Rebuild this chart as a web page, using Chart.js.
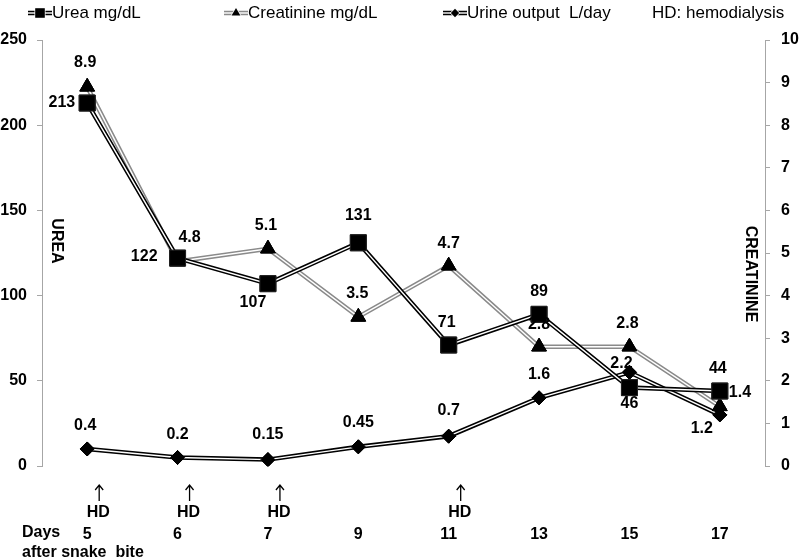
<!DOCTYPE html>
<html>
<head>
<meta charset="utf-8">
<script src="https://cdn.jsdelivr.net/npm/chart.js@4.4.1/dist/chart.umd.min.js"></script>
<style>
  html, body { margin: 0; padding: 0; background: #fff; }
  #wrap { width: 800px; height: 560px; position: relative; }
</style>
</head>
<body>
<div id="wrap"><canvas id="labChart"></canvas></div>
<script>
// data
const days = ['5', '6', '7', '9', '11', '13', '15', '17'];
const urea = [213, 122, 107, 131, 71, 89, 46, 44];
const creatinine = [8.9, 4.8, 5.1, 3.5, 4.7, 2.8, 2.8, 1.4];
const urine = [0.4, 0.2, 0.15, 0.45, 0.7, 1.6, 2.2, 1.2];
const hdDays = ['5', '6', '7', '11'];

const FONT = '"Liberation Sans", Arial, sans-serif';

// where each value label sits relative to its marker [dx, dy, align]
const labelOffsets = {
	urea: [[-12, 0, 'right'], [-20, -2, 'right'], [-15, 19, 'center'], [0, -27, 'center'],
		[-2, -22, 'center'], [0, -23, 'center'], [0, 16, 'center'], [-2, -22, 'center']],
	creatinine: [[-2, -24, 'center'], [12, -24, 'center'], [-2, -23, 'center'], [-1, -23, 'center'],
		[0, -22, 'center'], [0, -22, 'center'], [-2, -23, 'center'], [9, -14, 'left']],
	urine: [[-2, -23, 'center'], [0, -23, 'center'], [0, -25, 'center'], [0, -24, 'center'],
		[0, -26, 'center'], [0, -23, 'center'], [-8, -9, 'center'], [-18, 14, 'center']]
};

// Excel style "double" line: white stripe down the middle of the line
const doubleLine = {
	id: 'doubleLine',
	afterDatasetDraw(chart, args) {
		const ctx = chart.ctx;
		const pts = args.meta.data;
		ctx.save();
		ctx.beginPath();
		pts.forEach((p, i) => i ? ctx.lineTo(p.x, p.y) : ctx.moveTo(p.x, p.y));
		ctx.strokeStyle = '#fff';
		ctx.lineWidth = 1.4;
		ctx.lineJoin = 'miter';
		ctx.stroke();
		ctx.restore();
		pts.forEach(p => p.draw(ctx, chart.chartArea));
	}
};

// value labels, legend, axis titles, HD arrows, x caption
const annotations = {
	id: 'annotations',
	afterDatasetsDraw(chart) {
		const ctx = chart.ctx;
		const area = chart.chartArea;
		const x = chart.scales.x;
		ctx.save();
		ctx.fillStyle = '#000';
		ctx.textBaseline = 'middle';
		ctx.font = 'bold 16px ' + FONT;

		chart.data.datasets.forEach((ds, di) => {
			const meta = chart.getDatasetMeta(di);
			const offs = labelOffsets[ds.key];
			meta.data.forEach((p, i) => {
				const o = offs[i];
				ctx.textAlign = o[2];
				ctx.fillText(String(ds.data[i]), p.x + o[0], p.y + o[1]);
			});
		});

		// HD arrows
		ctx.textAlign = 'center';
		ctx.strokeStyle = '#000';
		ctx.lineWidth = 1.3;
		hdDays.forEach(d => {
			const px = x.getPixelForValue(days.indexOf(d)) + 12;
			ctx.beginPath();
			ctx.moveTo(px, area.bottom + 35);
			ctx.lineTo(px, area.bottom + 19);
			ctx.moveTo(px - 4, area.bottom + 24);
			ctx.lineTo(px, area.bottom + 19);
			ctx.lineTo(px + 4, area.bottom + 24);
			ctx.stroke();
			ctx.fillText('HD', px - 1, area.bottom + 47);
		});

		ctx.textAlign = 'left';
		ctx.fillText('Days', 22, area.bottom + 67);
		ctx.fillText('after snake  bite', 22, area.bottom + 87);

		// rotated axis titles
		ctx.textAlign = 'center';
		[['UREA', area.left + 14, 241], ['CREATININE', area.right - 15, 274]].forEach(t => {
			ctx.save();
			ctx.translate(t[1], t[2]);
			ctx.rotate(Math.PI / 2);
			ctx.fillText(t[0], 0, 0);
			ctx.restore();
		});

		// legend
		ctx.font = '17px ' + FONT;
		ctx.textAlign = 'left';
		const legendX = [40, 236, 455];
		chart.data.datasets.forEach((ds, di) => {
			const mx = legendX[di], my = 13;
			ctx.beginPath();
			ctx.moveTo(mx - 12, my);
			ctx.lineTo(mx + 12, my);
			ctx.strokeStyle = ds.borderColor;
			ctx.lineWidth = 4.5;
			ctx.stroke();
			ctx.strokeStyle = '#fff';
			ctx.lineWidth = 1.4;
			ctx.stroke();
			Chart.helpers.drawPoint(ctx, {
				pointStyle: ds.pointStyle,
				radius: ds.pointRadius * 0.6,
				borderWidth: 1
			}, mx, my);
			ctx.fillStyle = '#000';
			ctx.fill();
			ctx.fillText(ds.label, mx + 12, my);
		});
		ctx.fillText('HD: hemodialysis', 652, 13);
		ctx.restore();
	}
};

new Chart(document.getElementById('labChart'), {
	type: 'line',
	data: {
		labels: days,
		datasets: [{
			key: 'urea',
			label: 'Urea mg/dL',
			data: urea,
			yAxisID: 'y',
			borderColor: '#000',
			borderWidth: 4.5,
			pointStyle: 'rect',
			pointRadius: 11.3,
			pointBackgroundColor: '#000',
			pointBorderColor: '#222',
			pointBorderWidth: 1
		}, {
			key: 'creatinine',
			label: 'Creatinine mg/dL',
			data: creatinine,
			yAxisID: 'y1',
			borderColor: '#8a8a8a',
			borderWidth: 4.5,
			pointStyle: 'triangle',
			pointRadius: 8.5,
			pointBackgroundColor: '#000',
			pointBorderColor: '#000',
			pointBorderWidth: 1
		}, {
			key: 'urine',
			label: 'Urine output  L/day',
			data: urine,
			yAxisID: 'y1',
			borderColor: '#000',
			borderWidth: 4.5,
			pointStyle: 'rectRot',
			pointRadius: 7,
			pointBackgroundColor: '#000',
			pointBorderColor: '#000',
			pointBorderWidth: 1
		}]
	},
	options: {
		responsive: true,
		maintainAspectRatio: false,
		animation: false,
		layout: { padding: { top: 40, left: 0, right: 0, bottom: 0 } },
		elements: { line: { tension: 0 } },
		plugins: {
			legend: { display: false },
			tooltip: { enabled: false }
		},
		scales: {
			x: {
				offset: true,
				grid: { display: false, drawTicks: false },
				border: { display: false },
				ticks: {
					color: '#000',
					padding: 59,
					font: { family: FONT, size: 16, weight: 'bold' }
				},
				afterFit(scale) { scale.height = 94; }
			},
			y: {
				position: 'left',
				min: 0,
				max: 250,
				ticks: {
					stepSize: 50,
					color: '#000',
					padding: 10,
					font: { family: FONT, size: 16, weight: 'bold' }
				},
				grid: { drawOnChartArea: false, tickLength: 5, color: '#a6a6a6' },
				border: { color: '#a6a6a6' },
				afterFit(scale) { scale.width = 42; }
			},
			y1: {
				position: 'right',
				min: 0,
				max: 10,
				ticks: {
					stepSize: 1,
					color: '#000',
					padding: 11,
					font: { family: FONT, size: 16, weight: 'bold' }
				},
				grid: { drawOnChartArea: false, tickLength: 5, color: '#a6a6a6' },
				border: { color: '#a6a6a6' },
				afterFit(scale) { scale.width = 35; }
			}
		}
	},
	plugins: [doubleLine, annotations]
});
</script>
</body>
</html>
